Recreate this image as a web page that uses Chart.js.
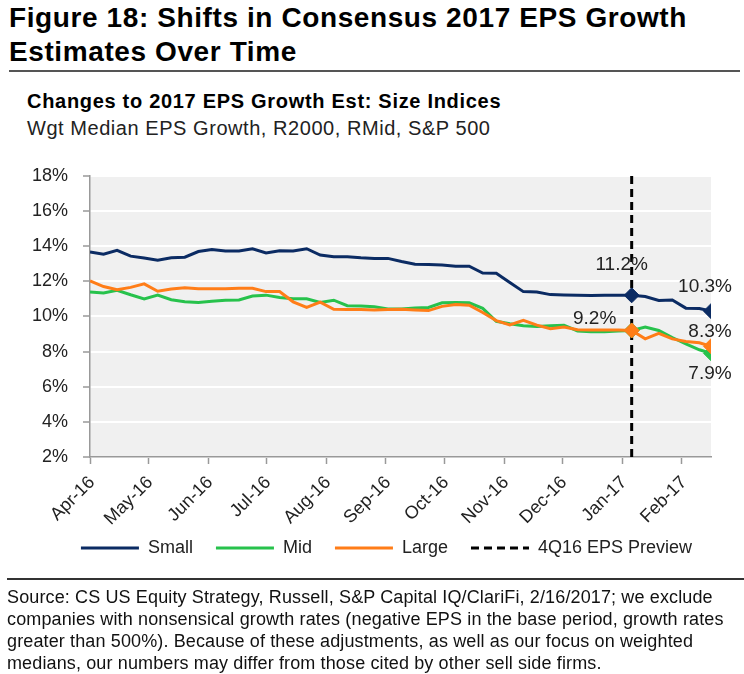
<!DOCTYPE html>
<html>
<head>
<meta charset="utf-8">
<script src="https://cdn.jsdelivr.net/npm/chart.js@4.4.1/dist/chart.umd.min.js"></script>
<style>
  body { margin: 0; background: #fff; font-family: "Liberation Sans", Arial, sans-serif; color: #111; }
  #page { position: relative; width: 744px; height: 674px; overflow: hidden; }
  .abs { position: absolute; white-space: nowrap; }
  #title { left: 9px; top: 1px; font-size: 28px; line-height: 34px; letter-spacing: 0.6px; font-weight: bold; color: #000; }
  #rule1 { left: 9px; top: 70px; width: 731px; height: 2px; background: #555; }
  #sub1 { left: 27px; top: 89.5px; font-size: 20px; line-height: 23px; letter-spacing: 0.7px; font-weight: bold; color: #000; }
  #sub2 { left: 27px; top: 116.5px; font-size: 20px; line-height: 23px; letter-spacing: 0.55px; color: #222; }
  #chartBox { left: 0; top: 150px; }
  #rule2 { left: 7px; top: 578px; width: 737px; height: 2px; background: #333; }
  #note { left: 7px; top: 585.5px; font-size: 18px; line-height: 22px; letter-spacing: 0.13px; color: #111; }
</style>
</head>
<body>
<div id="page">
  <div id="title" class="abs">Figure 18: Shifts in Consensus 2017 EPS Growth<br>Estimates Over Time</div>
  <div id="rule1" class="abs"></div>
  <div id="sub1" class="abs">Changes to 2017 EPS Growth Est: Size Indices</div>
  <div id="sub2" class="abs">Wgt Median EPS Growth, R2000, RMid, S&amp;P 500</div>
  <div id="chartBox" class="abs"><canvas id="epsChart" width="744" height="433"></canvas></div>
  <div id="rule2" class="abs"></div>
  <div id="note" class="abs">Source: CS US Equity Strategy, Russell, S&amp;P Capital IQ/ClariFi, 2/16/2017; we exclude<br>companies with nonsensical growth rates (negative EPS in the base period, growth rates<br>greater than 500%). Because of these adjustments, as well as our focus on weighted<br>medians, our numbers may differ from those cited by other sell side firms.</div>
</div>
<script>
// weekly observation dates
const weekDates = [
    '2016-04-01', '2016-04-08', '2016-04-15', '2016-04-22', '2016-04-29',
    '2016-05-06', '2016-05-13', '2016-05-20', '2016-05-27',
    '2016-06-03', '2016-06-10', '2016-06-17', '2016-06-24',
    '2016-07-01', '2016-07-08', '2016-07-15', '2016-07-22', '2016-07-29',
    '2016-08-05', '2016-08-12', '2016-08-19', '2016-08-26',
    '2016-09-02', '2016-09-09', '2016-09-16', '2016-09-23', '2016-09-30',
    '2016-10-07', '2016-10-14', '2016-10-21', '2016-10-28',
    '2016-11-04', '2016-11-11', '2016-11-18', '2016-11-25',
    '2016-12-02', '2016-12-09', '2016-12-16', '2016-12-23', '2016-12-30',
    '2017-01-06', '2017-01-13', '2017-01-20', '2017-01-27',
    '2017-02-03', '2017-02-10', '2017-02-16'
];

// Wgt median 2017 EPS growth estimates, %
const smallVals = [
    13.67, 13.54, 13.76, 13.43, 13.32, 13.19, 13.34, 13.37, 13.69, 13.80,
    13.72, 13.72, 13.85, 13.61, 13.74, 13.72, 13.85, 13.49, 13.40, 13.40,
    13.34, 13.30, 13.30, 13.12, 12.97, 12.95, 12.92, 12.86, 12.86, 12.47,
    12.46, 11.93, 11.41, 11.39, 11.24, 11.22, 11.20, 11.19, 11.20, 11.20,
    11.20, 11.13, 10.91, 10.93, 10.47, 10.45, 10.30
];
const midVals = [
    11.39, 11.33, 11.48, 11.23, 11.00, 11.21, 10.95, 10.84, 10.79, 10.86,
    10.92, 10.93, 11.16, 11.21, 11.08, 11.00, 11.00, 10.79, 10.92, 10.61,
    10.59, 10.55, 10.42, 10.42, 10.48, 10.51, 10.77, 10.79, 10.77, 10.46,
    9.72, 9.58, 9.47, 9.43, 9.47, 9.50, 9.17, 9.13, 9.12, 9.17,
    9.20, 9.39, 9.20, 8.80, 8.43, 8.10, 7.90
];
const largeVals = [
    12.02, 11.70, 11.52, 11.65, 11.85, 11.43, 11.56, 11.63, 11.58, 11.58,
    11.58, 11.60, 11.60, 11.41, 11.41, 10.83, 10.51, 10.81, 10.40, 10.39,
    10.39, 10.37, 10.39, 10.40, 10.37, 10.33, 10.57, 10.68, 10.64, 10.22,
    9.76, 9.52, 9.78, 9.50, 9.30, 9.39, 9.24, 9.22, 9.22, 9.22,
    9.20, 8.72, 9.03, 8.72, 8.57, 8.50, 8.30
];

const previewDate = '2017-01-06';
const monthTicks = ['2016-04-01', '2016-05-01', '2016-06-01', '2016-07-01', '2016-08-01', '2016-09-01',
                    '2016-10-01', '2016-11-01', '2016-12-01', '2017-01-01', '2017-02-01'];
const monthLabels = ['Apr-16', 'May-16', 'Jun-16', 'Jul-16', 'Aug-16', 'Sep-16',
                     'Oct-16', 'Nov-16', 'Dec-16', 'Jan-17', 'Feb-17'];
const yTicks = [2, 4, 6, 8, 10, 12, 14, 16, 18];

// points with diamond markers, and which get value labels
const markerIdx = [40, 46];
const valueLabels = [
    { series: 0, idx: 40, dx: -10, dy: -31 },
    { series: 0, idx: 46, dx: -6, dy: -24 },
    { series: 2, idx: 40, dx: -37, dy: -12 },
    { series: 2, idx: 46, dx: -1, dy: -15 },
    { series: 1, idx: 46, dx: -1, dy: 20 }
];

const FONT = '"Liberation Sans", Arial, sans-serif';
const DAY = 86400000;
const startMs = Date.parse(weekDates[0]);
const toDay = d => Math.round((Date.parse(d) - startMs) / DAY);
const toPoints = vals => vals.map((v, i) => ({ x: toDay(weekDates[i]), y: v }));

const navy = '#0b2b63';
const green = '#27c24c';
const orange = '#ff7d18';

function seriesSet(label, vals, color, order) {
    return {
        label: label,
        data: toPoints(vals),
        borderColor: color,
        backgroundColor: color,
        borderWidth: 3,
        tension: 0,
        order: order,
        pointStyle: 'rectRot',
        pointRadius: ctx => markerIdx.includes(ctx.dataIndex) ? 7.5 : 0,
        pointBorderWidth: 1,
        pointBorderColor: color,
        pointBackgroundColor: color
    };
}

const plotBackground = {
    id: 'plotBackground',
    beforeDraw(chart) {
        const a = chart.chartArea;
        const ctx = chart.ctx;
        ctx.save();
        ctx.fillStyle = '#f0f0f0';
        ctx.fillRect(a.left, a.top, a.right - a.left, a.bottom - a.top);
        ctx.restore();
    }
};

// the legend sits a little right of centre and tucks up under the date labels
const legendShift = {
    id: 'legendShift',
    afterLayout(chart) {
        const lg = chart.legend;
        if (!lg) return;
        lg.left += 31;
        lg.right += 31;
        lg.top -= 16;
        lg.bottom -= 16;
    }
};

const pointLabels = {
    id: 'pointLabels',
    afterDatasetsDraw(chart) {
        const ctx = chart.ctx;
        ctx.save();
        ctx.font = '19px ' + FONT;
        ctx.fillStyle = '#222';
        ctx.textAlign = 'center';
        ctx.textBaseline = 'middle';
        valueLabels.forEach(l => {
            const pt = chart.getDatasetMeta(l.series).data[l.idx];
            const v = chart.data.datasets[l.series].data[l.idx].y;
            ctx.fillText(v.toFixed(1) + '%', pt.x + l.dx, pt.y + l.dy);
        });
        ctx.restore();
    }
};

new Chart(document.getElementById('epsChart'), {
    type: 'line',
    data: {
        datasets: [
            seriesSet('Small', smallVals, navy, 3),
            seriesSet('Mid', midVals, green, 2),
            seriesSet('Large', largeVals, orange, 1),
            {
                label: '4Q16 EPS Preview',
                data: [{ x: toDay(previewDate), y: yTicks[0] }, { x: toDay(previewDate), y: yTicks[yTicks.length - 1] }],
                borderColor: '#000',
                backgroundColor: '#000',
                borderWidth: 3,
                borderDash: [8, 5],
                pointRadius: 0,
                order: 4
            }
        ]
    },
    options: {
        responsive: false,
        animation: false,
        devicePixelRatio: 1,
        layout: { padding: { left: 0, right: 33, top: 17, bottom: 0 } },
        plugins: {
            tooltip: { enabled: false },
            legend: {
                position: 'bottom',
                labels: {
                    usePointStyle: true,
                    pointStyle: 'line',
                    pointStyleWidth: 58,
                    padding: 23,
                    color: '#222',
                    font: { size: 18, family: FONT },
                    sort: (a, b) => a.datasetIndex - b.datasetIndex,
                    generateLabels: chart => Chart.defaults.plugins.legend.labels.generateLabels(chart).map(item => {
                        const ds = chart.data.datasets[item.datasetIndex];
                        item.lineWidth = 3;
                        item.strokeStyle = ds.borderColor;
                        item.lineDash = ds.borderDash || [];
                        item.lineCap = 'butt';
                        return item;
                    })
                }
            }
        },
        scales: {
            x: {
                type: 'linear',
                min: 0,
                max: toDay(weekDates[weekDates.length - 1]),
                afterBuildTicks: scale => { scale.ticks = monthTicks.map(d => ({ value: toDay(d) })); },
                afterFit: scale => { scale.height = 75; },
                ticks: {
                    minRotation: 45,
                    maxRotation: 45,
                    autoSkip: false,
                    padding: 8,
                    labelOffset: 2,
                    color: '#222',
                    font: { size: 18, family: FONT },
                    callback: v => {
                        const i = monthTicks.findIndex(d => toDay(d) === v);
                        return i >= 0 ? monthLabels[i] : '';
                    }
                },
                grid: { drawOnChartArea: false, drawTicks: true, tickLength: 7, tickColor: '#999', tickWidth: 1.5 },
                border: { color: '#999', width: 1.5 }
            },
            y: {
                min: yTicks[0],
                max: yTicks[yTicks.length - 1],
                afterBuildTicks: scale => { scale.ticks = yTicks.map(v => ({ value: v })); },
                afterFit: scale => { scale.width = 90; },
                ticks: {
                    padding: 15,
                    color: '#222',
                    font: { size: 18, family: FONT },
                    callback: v => v + '%'
                },
                grid: { color: '#ffffff', lineWidth: 2, tickLength: 7, tickColor: '#999', tickWidth: 1.5 },
                border: { color: '#999', width: 1.5 }
            }
        }
    },
    plugins: [plotBackground, legendShift, pointLabels]
});
</script>
</body>
</html>
